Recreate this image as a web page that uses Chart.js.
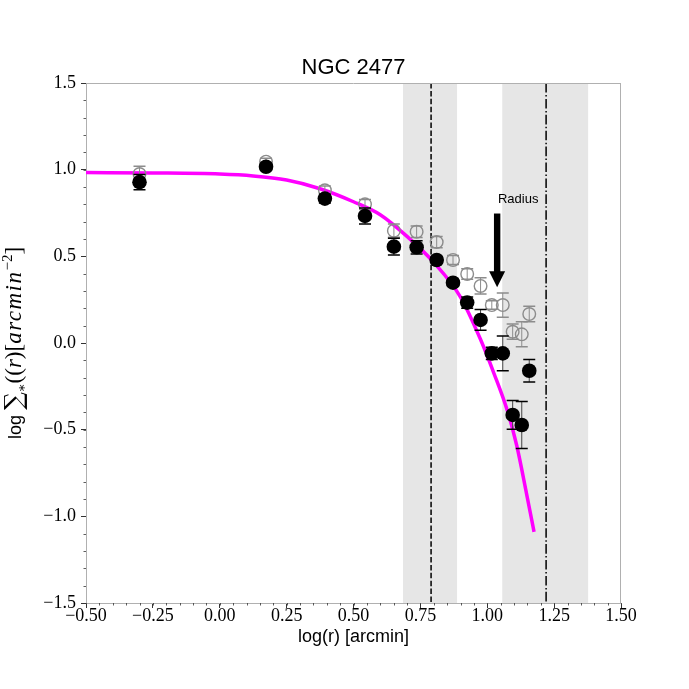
<!DOCTYPE html>
<html>
<head>
<meta charset="utf-8">
<script src="https://cdn.jsdelivr.net/npm/chart.js@4/dist/chart.umd.min.js"></script>
<style>
  html, body { margin: 0; padding: 0; background: #fff; }
</style>
</head>
<body>
<canvas id="chart" width="689" height="689"></canvas>
<script>
// radial bins, log(r) in arcmin
const logR = [-0.30, 0.173, 0.393, 0.543, 0.651, 0.736, 0.811, 0.872, 0.925, 0.975, 1.017, 1.058, 1.095, 1.129, 1.157];
// background-subtracted density (filled) and its error
const densSub = [0.928, 1.017, 0.833, 0.733, 0.556, 0.552, 0.479, 0.348, 0.233, 0.133, -0.06, -0.06, -0.415, -0.473, -0.16];
const densSubErr = [0.044, 0.02, 0.025, 0.046, 0.048, 0.038, 0.02, 0.02, 0.032, 0.06, 0.035, 0.1, 0.083, 0.135, 0.065];
// raw density (open) and its error
const densRaw = [0.975, 1.046, 0.881, 0.80, 0.648, 0.642, 0.582, 0.479, 0.398, 0.329, 0.219, 0.219, 0.065, 0.05, 0.167];
const densRawErr = [0.044, 0.02, 0.025, 0.028, 0.038, 0.033, 0.032, 0.026, 0.03, 0.047, 0.025, 0.07, 0.044, 0.072, 0.045];
// fitted profile
const fitX = [-0.5, -0.25, 0.0, 0.125, 0.25, 0.375, 0.5, 0.6, 0.7, 0.8, 0.9, 0.975, 1.025, 1.075, 1.11, 1.147, 1.175];
const fitY = [0.983, 0.981, 0.975, 0.964, 0.94, 0.89, 0.815, 0.74, 0.615, 0.465, 0.265, 0.02, -0.175, -0.39, -0.59, -0.87, -1.09];
// markers
const coreRadius = 0.79, coreBand = [0.685, 0.887];
const limitRadius = 1.22, limitBand = [1.056, 1.377];
const radiusArrow = { x: 1.037, from: 0.747, to: 0.321 };
const xTicks = [-0.5, -0.25, 0, 0.25, 0.5, 0.75, 1.0, 1.25, 1.5];
const yTicks = [-1.5, -1.0, -0.5, 0, 0.5, 1.0, 1.5];

const pts = (xs, ys) => xs.map((v, i) => ({ x: v, y: ys[i] }));
const fmt = (v, d) => (v < 0 ? '\u2212' : '') + Math.abs(v).toFixed(d);

// gray bands + vertical lines under everything
const bands = {
  id: 'bands',
  beforeDatasetsDraw(chart) {
    const { ctx, chartArea: a, scales: { x } } = chart;
    ctx.save();
    ctx.fillStyle = 'rgba(128,128,128,0.2)';
    [coreBand, limitBand].forEach(b => {
      const l = x.getPixelForValue(b[0]), r = x.getPixelForValue(b[1]);
      ctx.fillRect(l, a.top, r - l, a.bottom - a.top);
    });
    ctx.strokeStyle = '#000';
    ctx.lineWidth = 1.5;
    [[coreRadius, [5.5, 2.4]], [limitRadius, [9.6, 2.4, 1.5, 2.4]]].forEach(([v, dash]) => {
      const px = x.getPixelForValue(v);
      ctx.setLineDash(dash);
      ctx.beginPath();
      ctx.moveTo(px, a.top);
      ctx.lineTo(px, a.bottom);
      ctx.stroke();
    });
    ctx.restore();
  }
};

// error bars drawn just before each dataset's own markers
const errorBars = {
  id: 'errorBars',
  beforeDatasetDraw(chart, args) {
    const ds = chart.data.datasets[args.index];
    if (!ds.errY) return;
    const { ctx, scales: { x, y } } = chart;
    ctx.save();
    ds.data.forEach((p, i) => {
      const px = x.getPixelForValue(p.x);
      const t = y.getPixelForValue(p.y + ds.errY[i]);
      const b = y.getPixelForValue(p.y - ds.errY[i]);
      ctx.strokeStyle = ds.errLine;
      ctx.lineWidth = 1;
      ctx.beginPath(); ctx.moveTo(px, t); ctx.lineTo(px, b); ctx.stroke();
      ctx.strokeStyle = ds.errCap;
      ctx.lineWidth = 1.5;
      ctx.beginPath();
      ctx.moveTo(px - 6, t); ctx.lineTo(px + 6, t);
      ctx.moveTo(px - 6, b); ctx.lineTo(px + 6, b);
      ctx.stroke();
    });
    ctx.restore();
  }
};

// arrow, frame, minor ticks, y title
const extras = {
  id: 'extras',
  afterDatasetsDraw(chart) {
    const { ctx, scales: { x, y } } = chart;
    const ax = x.getPixelForValue(radiusArrow.x);
    const y0 = y.getPixelForValue(radiusArrow.from), y1 = y.getPixelForValue(radiusArrow.to);
    ctx.save();
    ctx.fillStyle = '#000';
    ctx.fillRect(ax - 3.2, y0, 6.4, y1 - y0 - 14);
    ctx.beginPath();
    ctx.moveTo(ax - 8, y1 - 16);
    ctx.lineTo(ax + 8, y1 - 16);
    ctx.lineTo(ax, y1);
    ctx.closePath();
    ctx.fill();
    ctx.font = '13px "Liberation Sans"';
    ctx.textAlign = 'center';
    ctx.textBaseline = 'middle';
    ctx.fillText('Radius', ax + 21, y0 - 14);
    ctx.restore();
  },
  afterDraw(chart) {
    const { ctx, chartArea: a, scales: { x, y } } = chart;
    ctx.save();
    ctx.strokeStyle = '#b0b0b0';
    ctx.lineWidth = 1;
    ctx.beginPath();
    ctx.moveTo(a.left, a.top + 0.5); ctx.lineTo(a.right, a.top + 0.5);
    ctx.moveTo(a.right - 0.5, a.top); ctx.lineTo(a.right - 0.5, a.bottom);
    ctx.stroke();
    // minor ticks
    ctx.strokeStyle = '#333';
    ctx.lineWidth = 0.8;
    ctx.beginPath();
    for (let k = -10; k <= 30; k++) {
      const px = Math.round(x.getPixelForValue(k / 20)) + 0.5;
      ctx.moveTo(px, a.bottom); ctx.lineTo(px, a.bottom + 2.5);
    }
    for (let k = -15; k <= 15; k++) {
      const py = Math.round(y.getPixelForValue(k / 10)) + 0.5;
      ctx.moveTo(a.left, py); ctx.lineTo(a.left - 2.5, py);
    }
    ctx.stroke();

    // y axis title with a little math
    const parts = [
      { t: 'log ', f: '18px "Liberation Sans"', dy: 0 },
      { t: '\u2211', f: '25px "DejaVu Serif"', dy: 1 },
      { t: '\u2217', f: '13px "DejaVu Serif"', dy: 5 },
      { t: '((', f: '23px "Liberation Serif"', dy: 0 },
      { t: 'r', f: 'italic 23px "Liberation Serif"', dy: 0 },
      { t: ')[', f: '23px "Liberation Serif"', dy: 0 },
      { t: 'arcmin', f: 'italic 23px "Liberation Serif"', dy: 0, ls: 1.5 },
      { t: '\u22122', f: '15px "Liberation Serif"', dy: -9 },
      { t: ']', f: '23px "Liberation Serif"', dy: 0 }
    ];
    let total = 0;
    parts.forEach(p => {
      ctx.font = p.f;
      ctx.letterSpacing = (p.ls || 0) + 'px';
      p.w = ctx.measureText(p.t).width;
      total += p.w;
    });
    ctx.translate(21, (a.top + a.bottom) / 2);
    ctx.rotate(-Math.PI / 2);
    ctx.fillStyle = '#000';
    ctx.textBaseline = 'alphabetic';
    ctx.textAlign = 'left';
    let cx = -total / 2;
    parts.forEach(p => {
      ctx.font = p.f;
      ctx.letterSpacing = (p.ls || 0) + 'px';
      ctx.fillText(p.t, cx, p.dy);
      cx += p.w;
    });
    ctx.restore();
  }
};

new Chart(document.getElementById('chart'), {
  type: 'scatter',
  data: {
    datasets: [
      {
        label: 'sub',
        data: pts(logR, densSub),
        errY: densSubErr, errLine: '#444', errCap: '#000',
        pointRadius: 7.3, pointBackgroundColor: '#000', pointBorderColor: '#000', pointBorderWidth: 0,
        order: 1
      },
      {
        label: 'raw',
        data: pts(logR, densRaw),
        errY: densRawErr, errLine: '#8c8c8c', errCap: '#8c8c8c',
        pointRadius: 6.3, pointBackgroundColor: 'rgba(0,0,0,0)', pointBorderColor: '#8c8c8c', pointBorderWidth: 1.4,
        order: 2
      },
      {
        label: 'fit',
        data: pts(fitX, fitY),
        showLine: true, borderColor: '#ff00ff', borderWidth: 3.5, pointRadius: 0,
        cubicInterpolationMode: 'monotone', fill: false,
        order: 3
      }
    ]
  },
  options: {
    responsive: false,
    animation: false,
    layout: { padding: { left: 0, right: 68, top: 55, bottom: 0 } },
    plugins: {
      legend: { display: false },
      tooltip: { enabled: false },
      title: {
        display: true, text: 'NGC 2477', fullSize: false, color: '#000',
        font: { family: 'Liberation Sans', size: 22, weight: 'normal' },
        padding: { top: 0, bottom: 1.6 }
      }
    },
    scales: {
      x: {
        type: 'linear', min: -0.5, max: 1.5,
        afterBuildTicks: s => { s.ticks = xTicks.map(v => ({ value: v })); },
        afterFit: s => { s.height = 86; },
        grid: { drawOnChartArea: false, tickLength: 5, tickColor: '#333', tickWidth: 1 },
        border: { color: '#b0b0b0', width: 1 },
        ticks: {
          color: '#000', padding: -3, maxRotation: 0, autoSkip: false,
          font: { family: 'Liberation Serif', size: 18 },
          callback: v => fmt(v, 2)
        },
        title: {
          display: true, text: 'log(r) [arcmin]', color: '#000',
          font: { family: 'Liberation Sans', size: 18 },
          padding: { top: 0, bottom: 41 }
        }
      },
      y: {
        type: 'linear', min: -1.5, max: 1.5,
        afterBuildTicks: s => { s.ticks = yTicks.map(v => ({ value: v })); },
        afterFit: s => { s.width = 86; },
        grid: { drawOnChartArea: false, tickLength: 5, tickColor: '#333', tickWidth: 1 },
        border: { color: '#b0b0b0', width: 1 },
        ticks: {
          color: '#000', padding: 5, autoSkip: false,
          font: { family: 'Liberation Serif', size: 18 },
          callback: v => fmt(v, 1)
        }
      }
    }
  },
  plugins: [bands, errorBars, extras]
});
</script>
</body>
</html>
